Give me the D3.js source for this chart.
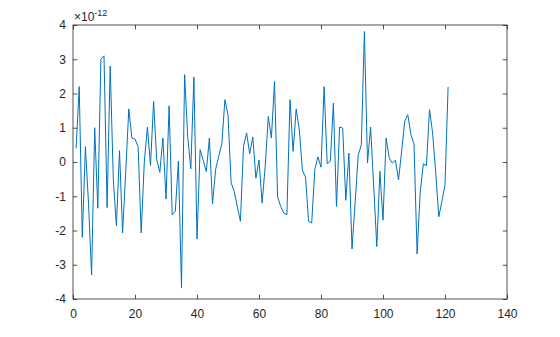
<!DOCTYPE html>
<html>
<head>
<meta charset="utf-8">
<script src="https://cdn.jsdelivr.net/npm/d3@7"></script>
<style>
  body { margin: 0; background: #fff; }
  svg { display: block; font-family: 'Liberation Sans', Arial, sans-serif; }
</style>
</head>
<body>
<div id="chart"></div>
<script>
// values are in units of 1e-12, sample index starts at 1
let values = [
  0.4, 2.2, -2.2, 0.45, -1.2, -3.3, 1.0, -1.35, 3.0, 3.1,
  -1.33, 2.8, -0.5, -1.86, 0.33, -2.07, -0.3, 1.55, 0.7, 0.67,
  0.45, -2.07, 0.0, 1.02, -0.1, 1.77, 0.07, -0.3, 0.7, -1.08,
  1.64, -1.54, -1.44, 0.02, -3.68, 2.55, 0.75, -0.2, 2.48, -2.25,
  0.36, 0.05, -0.28, 0.7, -1.23, -0.22, 0.16, 0.53, 1.82, 1.38,
  -0.6, -0.86, -1.3, -1.73, 0.46, 0.85, 0.24, 0.73, -0.47, 0.06,
  -1.2, -0.13, 1.33, 0.7, 2.35, -1.02, -1.3, -1.49, -1.54, 1.82,
  0.31, 1.55, 0.94, -0.24, -0.44, -1.73, -1.78, -0.22, 0.15, -0.15,
  2.2, -0.05, 0.02, 1.72, -1.3, 1.02, 0.99, -1.12, 0.26, -2.54,
  -1.2, 0.2, 0.5, 3.81, -0.03, 1.02, -0.7, -2.47, -0.27, -1.7,
  0.7, 0.12, -0.03, 0.05, -0.52, 0.3, 1.19, 1.38, 0.8, 0.53,
  -2.68, -0.9, -0.05, -0.11, 1.53, 0.85, -0.3, -1.6, -1.15, -0.66,
  2.19
]
let xTicks = [0, 20, 40, 60, 80, 100, 120, 140]
let yTicks = [-4, -3, -2, -1, 0, 1, 2, 3, 4]

let data = values.map((v, i) => ({ x: i + 1, y: v }))

let margin = { top: 25, left: 73, right: 53, bottom: 38 }
let width = 560 - margin.left - margin.right
let height = 337 - margin.top - margin.bottom
let axisColor = '#262626'
let tickLen = 4.3

let svg = d3.select('#chart')
  .append('svg')
  .attr('width', 560)
  .attr('height', 337)

let holder = svg.append('g')
  .attr('transform', `translate(${margin.left},${margin.top})`)

let xScale = d3.scaleLinear().domain([0, 140]).range([0, width])
let yScale = d3.scaleLinear().domain([-4, 4]).range([height, 0])

// the data line
let line = d3.line()
  .x(d => xScale(d.x))
  .y(d => yScale(d.y))

holder.append('path')
  .datum(data)
  .attr('d', line)
  .attr('fill', 'none')
  .attr('stroke', '#0072BD')
  .attr('stroke-width', 1)
  .attr('stroke-linejoin', 'round')

// axes, matlab style: ticks inside, box all around
function styleAxis(g) {
  g.select('.domain').remove()
  g.selectAll('.tick line').attr('stroke', axisColor).attr('stroke-width', 0.8)
  g.selectAll('.tick text')
    .attr('fill', axisColor)
    .attr('font-size', 12)
}

// plain hyphen for negatives, like matlab
let plain = d => String(d)

holder.append('g')
  .attr('transform', `translate(0,${height})`)
  .call(d3.axisBottom(xScale).tickValues(xTicks).tickSize(-tickLen).tickPadding(10).tickFormat(plain))
  .call(styleAxis)

holder.append('g')
  .call(d3.axisTop(xScale).tickValues(xTicks).tickSize(-tickLen).tickFormat(''))
  .call(styleAxis)

holder.append('g')
  .call(d3.axisLeft(yScale).tickValues(yTicks).tickSize(-tickLen).tickPadding(7).tickFormat(plain))
  .call(styleAxis)

holder.append('g')
  .attr('transform', `translate(${width},0)`)
  .call(d3.axisRight(yScale).tickValues(yTicks).tickSize(-tickLen).tickFormat(''))
  .call(styleAxis)

holder.append('rect')
  .attr('width', width)
  .attr('height', height)
  .attr('fill', 'none')
  .attr('stroke', axisColor)
  .attr('stroke-width', 0.8)

// exponent label
let expLabel = holder.append('text')
  .attr('x', 1)
  .attr('y', -4)
  .attr('font-size', 12)
  .attr('fill', axisColor)

expLabel.append('tspan').text('×10')
expLabel.append('tspan')
  .attr('font-size', 9)
  .attr('dy', -5)
  .text('-12')
</script>
</body>
</html>
